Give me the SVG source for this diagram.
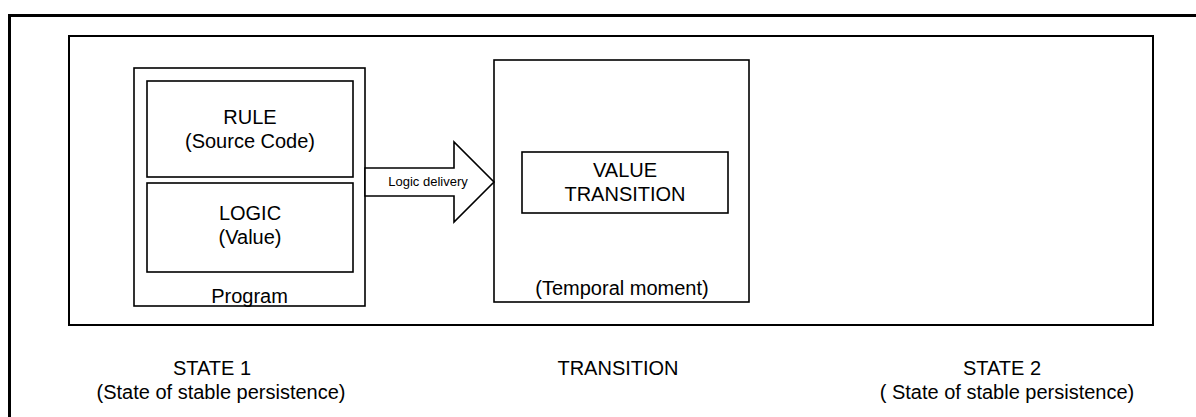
<svg xmlns="http://www.w3.org/2000/svg" width="1196" height="417" viewBox="0 0 1196 417">
<style>
  .box { fill: #ffffff; stroke: #000000; stroke-width: 1.6; }
  .t { font-family: "Liberation Sans", Arial, sans-serif; font-size: 20px; fill: #000000; text-anchor: middle; }
  .s { font-family: "Liberation Sans", Arial, sans-serif; font-size: 13px; fill: #000000; text-anchor: middle; }
</style>
<rect width="1196" height="417" fill="#ffffff"/>
<g id="frame">
  <path d="M 9.5 420 L 9.5 15.5 L 1200 15.5" fill="none" stroke="#000" stroke-width="3"/>
  <rect x="69" y="36" width="1084" height="289" fill="none" stroke="#000" stroke-width="2"/>
</g>
<g id="program">
  <rect class="box" x="134" y="68" width="231" height="238"/>
  <text class="t" x="249.5" y="303">Program</text>
</g>
<g id="rule">
  <rect class="box" x="147" y="81" width="206" height="96"/>
  <text class="t" x="250" y="124">RULE</text>
  <text class="t" x="250" y="148">(Source Code)</text>
</g>
<g id="logic">
  <rect class="box" x="147" y="183" width="206" height="89"/>
  <text class="t" x="250" y="220">LOGIC</text>
  <text class="t" x="250" y="244">(Value)</text>
</g>
<g id="transition-box">
  <rect class="box" x="494" y="60" width="255" height="242"/>
  <text class="t" x="622" y="295">(Temporal moment)</text>
</g>
<g id="value-transition">
  <rect class="box" x="522" y="152" width="206" height="61"/>
  <text class="t" x="625" y="177">VALUE</text>
  <text class="t" x="625" y="201">TRANSITION</text>
</g>
<g id="connectors">
  <polygon class="box" points="365,168 454,168 454,142 494,182 454,222 454,196 365,196"/>
  <text class="s" x="428" y="186">Logic delivery</text>
</g>
<g id="labels">
  <text class="t" x="212" y="375">STATE 1</text>
  <text class="t" x="221" y="399">(State of stable persistence)</text>
  <text class="t" x="618" y="375">TRANSITION</text>
  <text class="t" x="1002" y="375">STATE  2</text>
  <text class="t" x="1007" y="399">( State of stable persistence)</text>
</g>
</svg>
